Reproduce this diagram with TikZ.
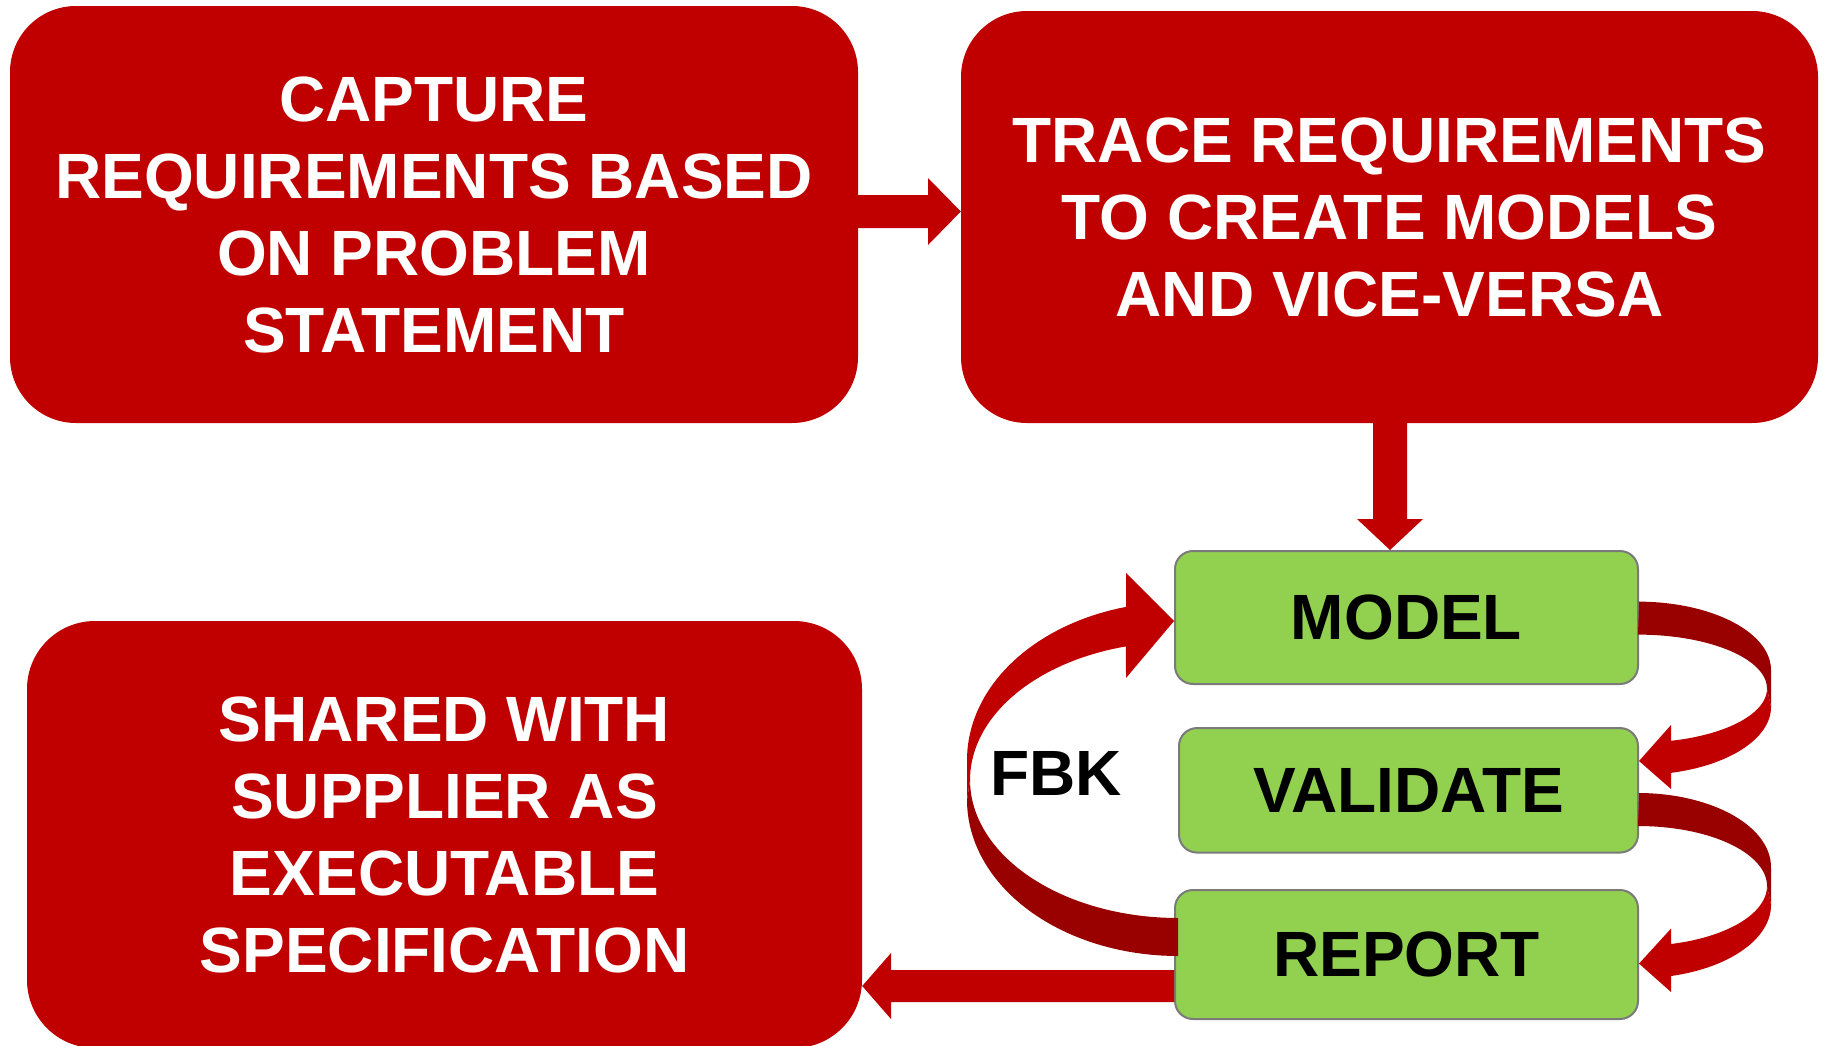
\documentclass[tikz,border=0pt]{standalone}
\usepackage{fontspec}
\setmainfont{Liberation Sans}
\usetikzlibrary{calc}
\definecolor{redc}{HTML}{C00000}
\definecolor{darkc}{HTML}{990000}
\definecolor{greenc}{HTML}{92D050}
\definecolor{grayc}{HTML}{7A7A7A}
\begin{document}
\begin{tikzpicture}[x=1pt,y=-1pt,
  bigfont/.style={font=\bfseries\fontsize{64}{77}\selectfont},
  redbox/.style={fill=redc, rounded corners=66pt, text=white, inner sep=0pt, align=center, bigfont},
  greenbox/.style={fill=greenc, draw=grayc, line width=2pt, rounded corners=18pt, inner sep=0pt, text=black, bigfont},
  blockarrow/.style={fill=redc},
  backarrow/.style={fill=darkc}]
\useasboundingbox (0,0) rectangle (1826,1045);
\clip (0,0) rectangle (1826,1045);

% red boxes
\node[redbox, minimum width=848pt, minimum height=417pt] (cap) at (434,214.5)
  {CAPTURE\\REQUIREMENTS BASED\\ON PROBLEM\\STATEMENT};
\node[redbox, minimum width=857pt, minimum height=412pt] (trace) at (1389.5,217)
  {TRACE REQUIREMENTS\\TO CREATE MODELS\\AND VICE-VERSA};
\node[redbox, rounded corners=68pt, minimum width=835pt, minimum height=427pt] (shared) at (444.5,834.5)
  {SHARED WITH\\SUPPLIER AS\\EXECUTABLE\\SPECIFICATION};

% green boxes
\node[greenbox, minimum width=463pt, minimum height=133pt] (model) at (1406.5,617.5) {MODEL};
\node[greenbox, minimum width=459pt, minimum height=124.5pt] (validate) at (1408.5,790.3) {VALIDATE};
\node[greenbox, minimum width=463pt, minimum height=129pt] (report) at (1406.5,954.5) {REPORT};

% FBK label
\node[bigfont, inner sep=0pt, anchor=base west] (fbk) at (990,795) {FBK};

% capture -> trace
\fill[blockarrow] (cap.east |- 0,195) -- (928,195) -- (928,178) -- (trace.west |- 0,211.5)
  -- (928,245) -- (928,228) -- (cap.east |- 0,228) -- cycle;

% trace -> model
\fill[blockarrow] (1373,0 |- trace.south) -- (1373,519) -- (1357,519) -- (1390,0 |- model.north)
  -- (1423,519) -- (1407,519) -- (1407,0 |- trace.south) -- cycle;

% report -> shared
\fill[blockarrow] (report.west |- 0,970) -- (891,970) -- (891,953) -- (shared.east |- 0,986)
  -- (891,1019) -- (891,1002) -- (report.west |- 0,1002) -- cycle;

% FBK curved arrow: report -> model (tail dark, head bright)
\fill[backarrow] (967,800)
  -- plot[domain=0:90,samples=40,variable=\t] ({1178-211*cos(\t)},{800+156*sin(\t)})
  -- (1178,918)
  -- plot[domain=0:90,samples=40,variable=\t] ({1178-208*sin(\t)},{780+138*cos(\t)})
  -- cycle;
\fill[blockarrow] (970,780) -- (967,800) -- (967,760)
  -- plot[domain=0:75.73,samples=40,variable=\t] ({1178-211*cos(\t)},{760-158*sin(\t)})
  -- (1126,573) -- (model.west |- 0,621) -- (1126,678)
  -- plot[domain=14.5:90,samples=40,variable=\t] ({1178-208*sin(\t)},{780-138*cos(\t)})
  -- cycle;

% model -> validate curved arrow
\fill[backarrow] (model.east |- 0,601.6)
  -- plot[domain=0:90,samples=40,variable=\t] ({1638+133*sin(\t)},{670-68.4*cos(\t)})
  -- (1771,707) -- (1767,688.6)
  -- plot[domain=0:90,samples=40,variable=\t] ({1638+129*cos(\t)},{688.6-54*sin(\t)})
  -- cycle;
\fill[blockarrow] (1771,707)
  -- plot[domain=0:75.64,samples=40,variable=\t] ({1638+133*cos(\t)},{707+68*sin(\t)})
  -- (1671,789) -- (validate.east |- 0,761) -- (1671,725)
  -- plot[domain=14.82:90,samples=40,variable=\t] ({1638+129*sin(\t)},{688.6+54*cos(\t)})
  -- cycle;

% validate -> report curved arrow
\fill[backarrow] (validate.east |- 0,793)
  -- plot[domain=0:90,samples=40,variable=\t] ({1638+133*sin(\t)},{867-74*cos(\t)})
  -- (1771,905) -- (1767,886)
  -- plot[domain=0:90,samples=40,variable=\t] ({1638+129*cos(\t)},{886-60*sin(\t)})
  -- cycle;
\fill[blockarrow] (1771,905)
  -- plot[domain=0:75.64,samples=40,variable=\t] ({1638+133*cos(\t)},{905+73.3*sin(\t)})
  -- (1671,992) -- (report.east |- 0,963.6) -- (1671,928.6)
  -- plot[domain=14.82:90,samples=40,variable=\t] ({1638+129*sin(\t)},{886+60*cos(\t)})
  -- cycle;
\end{tikzpicture}
\end{document}
